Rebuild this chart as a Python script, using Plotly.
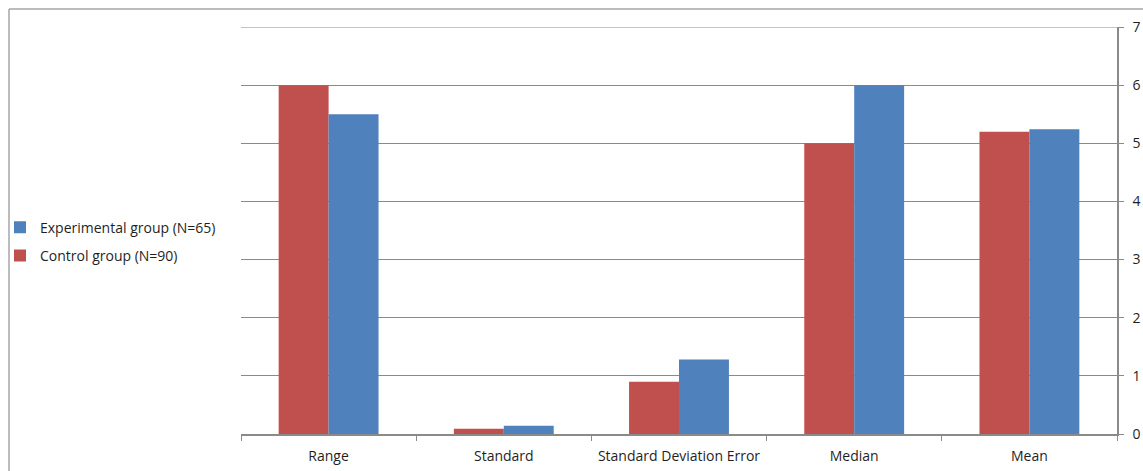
import plotly.graph_objects as go

# Descriptive statistics for the two groups
categories = ["Range", "Standard", "Standard Deviation Error", "Median", "Mean"]
control_values = [6.0, 0.09, 0.90, 5.0, 5.20]
experimental_values = [5.5, 0.14, 1.28, 6.0, 5.24]

control_name = "Control group (N=90)"
experimental_name = "Experimental group (N=65)"

W, H = 1143, 471
ML, MR, MT, MB = 241, 26, 27, 36.5
plot_w = W - ML - MR
plot_h = H - MT - MB
Y_MAX = 7


def px_x(px):
    return (px - ML) / plot_w


def px_y(py):
    return (H - MB - py) / plot_h


fig = go.Figure()
fig.add_trace(go.Bar(
    x=categories, y=control_values, name=control_name,
    marker=dict(color="#C0504D", line=dict(width=0)),
    legendgroup="control", legendrank=2,
))
fig.add_trace(go.Bar(
    x=categories, y=experimental_values, name=experimental_name,
    marker=dict(color="#4F81BD", line=dict(width=0)),
    legendgroup="experimental", legendrank=1,
))

axis_grey = "#8a8a8a"
text_color = "#1f1f1f"
font_size = 14

fig.update_layout(
    width=W, height=H,
    margin=dict(l=ML, r=MR, t=MT, b=MB, autoexpand=False),
    paper_bgcolor="white",
    plot_bgcolor="white",
    barmode="group",
    bargap=0.43,
    bargroupgap=0,
    font=dict(family="Open Sans, Liberation Sans, sans-serif", size=font_size, color=text_color),
    showlegend=True,
    legend=dict(
        x=px_x(0), xanchor="left",
        y=px_y(242), yanchor="middle",
        traceorder="grouped",
        tracegroupgap=7,
        font=dict(size=font_size, color=text_color),
        bgcolor="rgba(0,0,0,0)",
        itemwidth=30,
    ),
    xaxis=dict(
        type="category",
        automargin=False,
        tickson="boundaries",
        ticks="outside",
        ticklen=5,
        tickcolor=axis_grey,
        showline=True,
        linecolor=axis_grey,
        linewidth=1.5,
        showgrid=False,
        ticklabelstandoff=8,
        tickfont=dict(size=font_size, color=text_color),
    ),
    yaxis=dict(
        side="right",
        automargin=False,
        range=[0, Y_MAX],
        dtick=1,
        ticks="outside",
        ticklen=5,
        tickcolor=axis_grey,
        showline=True,
        linecolor=axis_grey,
        linewidth=1.5,
        showgrid=True,
        gridcolor=axis_grey,
        gridwidth=1,
        zeroline=False,
        ticklabelstandoff=6,
        tickfont=dict(size=font_size, color=text_color),
    ),
    shapes=[
        # top gridline at the axis maximum
        dict(type="line", xref="paper", yref="y",
             x0=0, x1=1, y0=Y_MAX, y1=Y_MAX,
             line=dict(color=axis_grey, width=1)),
        # outer chart frame (top and left edges)
        dict(type="line", xref="paper", yref="paper",
             x0=px_x(9), x1=px_x(W + 5), y0=px_y(9), y1=px_y(9),
             line=dict(color="#a6a6a6", width=1.5)),
        dict(type="line", xref="paper", yref="paper",
             x0=px_x(9), x1=px_x(9), y0=px_y(9), y1=px_y(H + 5),
             line=dict(color="#a6a6a6", width=1.5)),
    ],
)

fig.write_html("out.html")
